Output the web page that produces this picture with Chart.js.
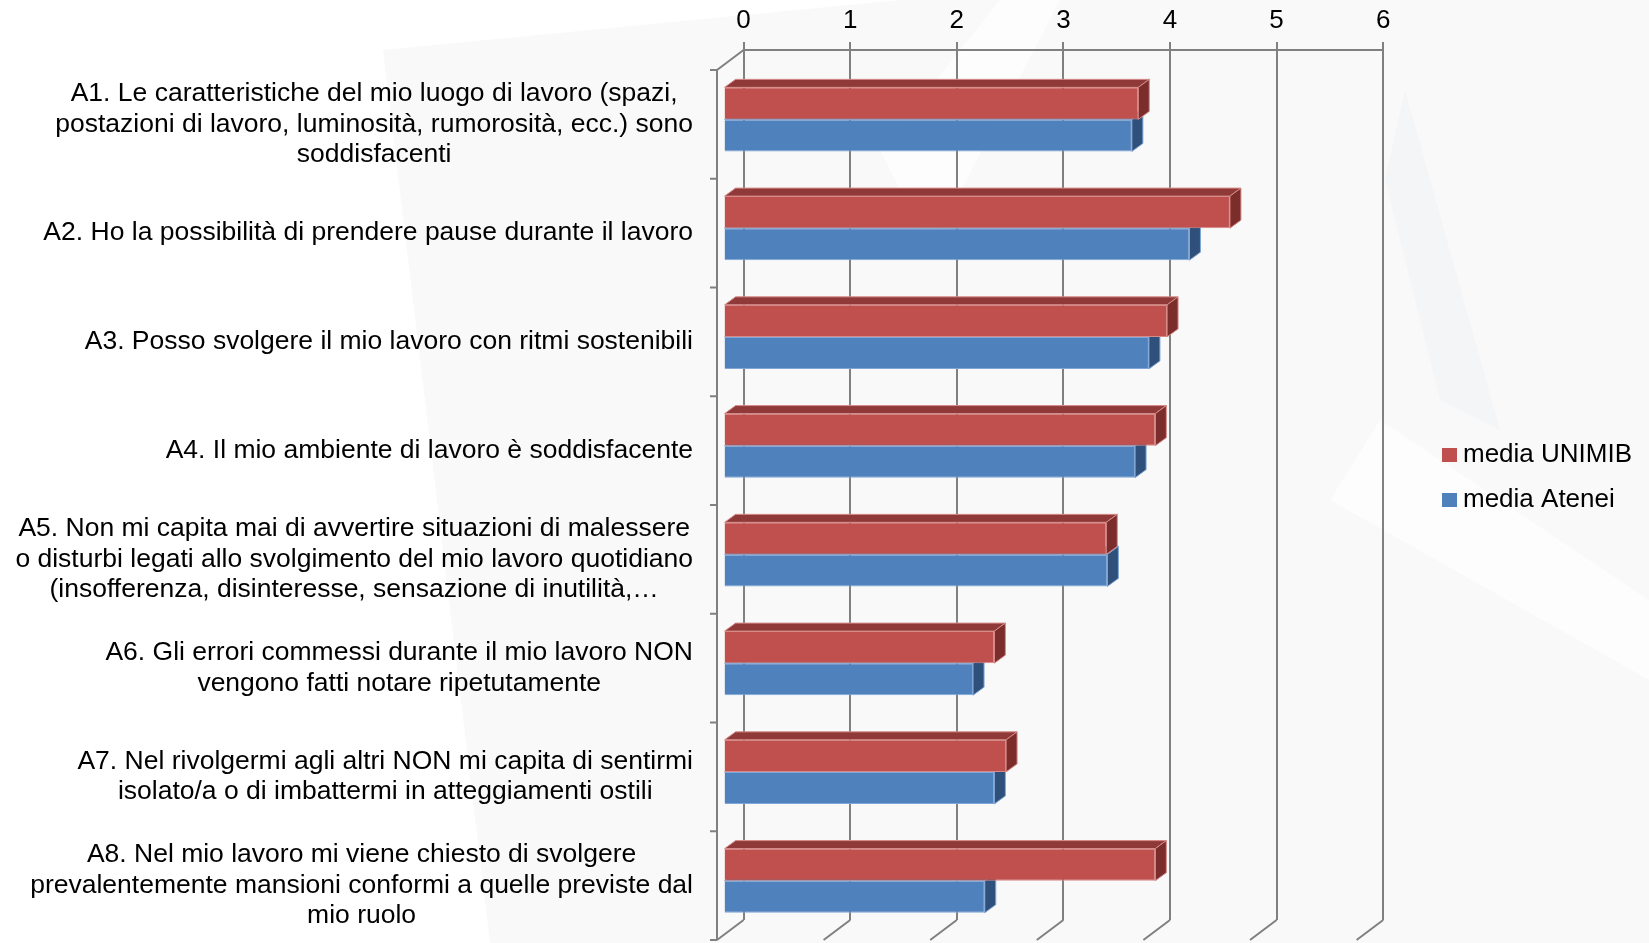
<!DOCTYPE html>
<html><head><meta charset="utf-8">
<script src="https://cdn.jsdelivr.net/npm/chart.js@4/dist/chart.umd.min.js"></script>
<style>html,body{margin:0;padding:0;background:#fff;overflow:hidden}#wrap{width:1649px;height:943px}</style>
</head><body><div id="wrap"><canvas id="c" width="1649" height="943"></canvas></div>
<script>
// ---- data ----
const categories = [
  ["A1. Le caratteristiche del mio luogo di lavoro (spazi,", "postazioni di lavoro, luminosità, rumorosità, ecc.) sono", "soddisfacenti"],
  ["A2. Ho la possibilità di prendere pause durante il lavoro"],
  ["A3. Posso svolgere il mio lavoro con ritmi sostenibili"],
  ["A4. Il mio ambiente di lavoro è soddisfacente"],
  ["A5. Non mi capita mai di avvertire situazioni di malessere", "o disturbi legati allo svolgimento del mio lavoro quotidiano", "(insofferenza, disinteresse, sensazione di inutilità,…"],
  ["A6. Gli errori commessi durante il mio lavoro NON", "vengono fatti notare ripetutamente"],
  ["A7. Nel rivolgermi agli altri NON mi capita di sentirmi", "isolato/a o di imbattermi in atteggiamenti ostili"],
  ["A8. Nel mio lavoro mi viene chiesto di svolgere", "prevalentemente mansioni conformi a quelle previste dal", "mio ruolo"]
];
const seriesNames = ["media UNIMIB", "media Atenei"];
const mediaUNIMIB = [3.89, 4.75, 4.16, 4.05, 3.59, 2.54, 2.65, 4.05];
const mediaAtenei = [3.83, 4.37, 3.99, 3.86, 3.60, 2.34, 2.54, 2.45];
const xTickValues = [0, 1, 2, 3, 4, 5, 6];

// ---- style ----
const FONT = "'Liberation Sans', Arial, sans-serif";
const GRID = '#808080';
const faceColors = [
  {front:'#C0504D', top:'#8F3A38', side:'#7A2D2B', edge:'#D78B89'},
  {front:'#4F81BD', top:'#3A6293', side:'#2F507A', edge:'#7FA6D6'}
];
const BACK_TO_BAR = {dx:-20, dy:15};
const BACK_TO_FRONT = {dx:-26.6, dy:20};
const BAR_DEPTH = {dx:11, dy:-8};

const bgPlugin = {
  id:'bg',
  beforeDraw(chart){
    const ctx = chart.ctx;
    ctx.save();
    ctx.fillStyle = '#ffffff';
    ctx.fillRect(0,0,chart.width,chart.height);
    ctx.fillStyle = '#f9f9fa';
    ctx.beginPath();
    ctx.moveTo(383,50); ctx.lineTo(900,0); ctx.lineTo(1649,0); ctx.lineTo(1649,943); ctx.lineTo(490,943);
    ctx.closePath(); ctx.fill();
    ctx.fillStyle = '#fdfdfd';
    ctx.beginPath();
    ctx.moveTo(880,150); ctx.lineTo(1000,0); ctx.lineTo(1060,0); ctx.lineTo(930,250); ctx.closePath(); ctx.fill();
    ctx.beginPath();
    ctx.moveTo(1380,420); ctx.lineTo(1649,600); ctx.lineTo(1649,680); ctx.lineTo(1330,500); ctx.closePath(); ctx.fill();
    ctx.fillStyle = '#f4f5f6';
    ctx.beginPath();
    ctx.moveTo(1405,90); ctx.lineTo(1500,430); ctx.lineTo(1440,400); ctx.lineTo(1385,180); ctx.closePath(); ctx.fill();
    ctx.restore();
  }
};

function drawFaces(chart){
  const ctx = chart.ctx;
  [1,0].forEach(di => {
    const meta = chart.getDatasetMeta(di);
    const c = faceColors[di];
    meta.data.forEach(el => {
      const p = el.getProps(['x','y','base','height'], true);
      const top = p.y - p.height/2, bottom = p.y + p.height/2;
      const left = Math.min(p.base, p.x), right = Math.max(p.base, p.x);
      const dx = BAR_DEPTH.dx, dy = BAR_DEPTH.dy;
      ctx.beginPath();
      ctx.moveTo(left, top); ctx.lineTo(left+dx, top+dy); ctx.lineTo(right+dx, top+dy); ctx.lineTo(right, top);
      ctx.closePath();
      ctx.fillStyle = c.top; ctx.fill();
      ctx.lineWidth = 1; ctx.strokeStyle = c.edge; ctx.stroke();
      ctx.beginPath();
      ctx.moveTo(right, top); ctx.lineTo(right+dx, top+dy); ctx.lineTo(right+dx, bottom+dy); ctx.lineTo(right, bottom);
      ctx.closePath();
      ctx.fillStyle = c.side; ctx.fill();
      ctx.stroke();
    });
  });
}

const threeDPlugin = {
  id:'threeD',
  beforeDatasetsDraw(chart){
    const ctx = chart.ctx;
    const xs = chart.scales.x, ys = chart.scales.y;
    const a = chart.chartArea;
    ctx.save();
    ctx.strokeStyle = GRID; ctx.lineWidth = 2; ctx.lineCap = 'butt';
    const fx = a.left + BACK_TO_FRONT.dx;
    ctx.beginPath();
    ctx.moveTo(fx, a.top + BACK_TO_FRONT.dy); ctx.lineTo(fx, a.bottom + BACK_TO_FRONT.dy);
    ctx.moveTo(a.left, a.top); ctx.lineTo(fx, a.top + BACK_TO_FRONT.dy);
    xTickValues.forEach(v => {
      const px = xs.getPixelForValue(v);
      ctx.moveTo(px, a.bottom); ctx.lineTo(px + BACK_TO_FRONT.dx, a.bottom + BACK_TO_FRONT.dy);
    });
    const n = categories.length;
    const band = (a.bottom - a.top)/n;
    for(let k=0;k<=n;k++){
      const y = a.top + BACK_TO_FRONT.dy + k*band;
      ctx.moveTo(fx-7, y); ctx.lineTo(fx, y);
    }
    ctx.stroke();
    ctx.restore();
    ctx.save();
    ctx.fillStyle = '#000';
    ctx.font = '26.5px ' + FONT;
    ctx.textAlign = 'center'; ctx.textBaseline = 'middle';
    const rightEdge = fx - 24;
    chart.data.labels.forEach((lines, i) => {
      const cy = ys.getPixelForValue(i) + BACK_TO_FRONT.dy;
      const w = Math.max(...lines.map(l => ctx.measureText(l).width));
      const cx = rightEdge - w/2;
      lines.forEach((l, j) => {
        ctx.fillText(l, cx, cy + (j - (lines.length-1)/2)*30.5);
      });
    });
    ctx.restore();
    ctx.save();
    ctx.translate(BACK_TO_BAR.dx, BACK_TO_BAR.dy);
    drawFaces(chart);
  },
  afterDatasetsDraw(chart){
    chart.ctx.restore();
  },
  afterDraw(chart){
    const ctx = chart.ctx;
    ctx.save();
    ctx.font = '26px ' + FONT;
    ctx.textBaseline = 'middle'; ctx.textAlign = 'left';
    const ys0 = [455, 500];
    chart.data.datasets.forEach((ds, i) => {
      ctx.fillStyle = ds.backgroundColor;
      ctx.fillRect(1442, ys0[i]-7, 15, 14);
      ctx.fillStyle = '#000';
      ctx.fillText(ds.label, 1463, ys0[i]);
    });
    ctx.restore();
  }
};

new Chart(document.getElementById('c'), {
  type:'bar',
  data:{
    labels: categories,
    datasets:[
      {label: seriesNames[0], data: mediaUNIMIB, backgroundColor: faceColors[0].front, borderColor: faceColors[0].edge, borderWidth: 1, clip:false},
      {label: seriesNames[1], data: mediaAtenei, backgroundColor: faceColors[1].front, borderColor: faceColors[1].edge, borderWidth: 1, clip:false}
    ]
  },
  options:{
    indexAxis:'y',
    responsive:false,
    animation:false,
    devicePixelRatio:1,
    layout:{padding:{left:0, right:265.8, top:0, bottom:23}},
    datasets:{bar:{barPercentage:1, categoryPercentage:0.589}},
    plugins:{legend:{display:false}, tooltip:{enabled:false}},
    scales:{
      x:{
        position:'top', min:0, max:6,
        afterBuildTicks(s){ s.ticks = xTickValues.map(v => ({value:v})); },
        afterFit(s){ s.height = 50; },
        ticks:{color:'#000', font:{family:FONT, size:26}, padding:6},
        grid:{color:GRID, lineWidth:2, tickLength:8, drawTicks:true},
        border:{display:true, color:GRID, width:2}
      },
      y:{
        afterFit(s){ s.width = 743.6; },
        ticks:{display:false},
        grid:{display:false, drawTicks:false},
        border:{display:false}
      }
    }
  },
  plugins:[bgPlugin, threeDPlugin]
});
</script>
</body></html>
